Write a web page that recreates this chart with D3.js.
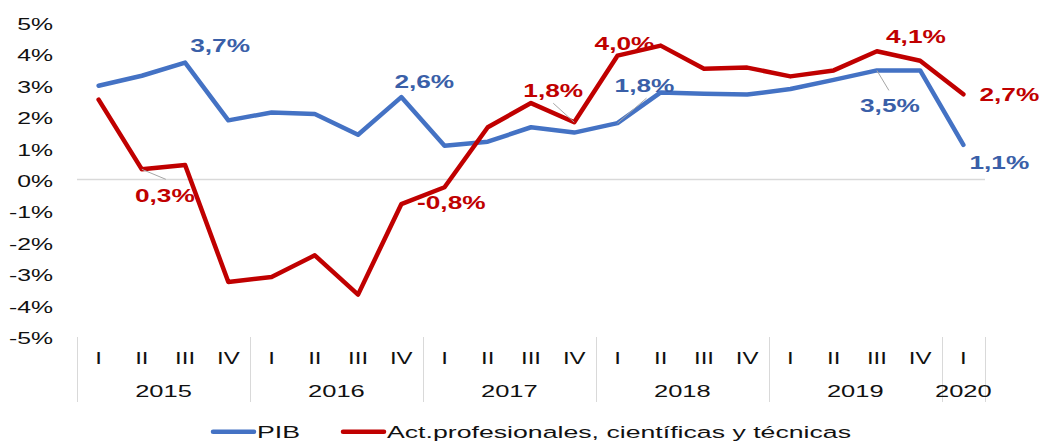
<!DOCTYPE html>
<html>
<head>
<meta charset="utf-8">
<script src="https://cdn.jsdelivr.net/npm/d3@7"></script>
<style>
  body { margin: 0; background: #fff; }
  svg { display: block; font-family: "Liberation Sans", Arial, sans-serif; }
</style>
</head>
<body>
<div id="chart"></div>
<script>
// periods (trimestres)
const periodQuarter = ["I", "II", "III", "IV", "I", "II", "III", "IV", "I", "II", "III", "IV",
  "I", "II", "III", "IV", "I", "II", "III", "IV", "I"];
const periodYear = ["2015", "2015", "2015", "2015", "2016", "2016", "2016", "2016",
  "2017", "2017", "2017", "2017", "2018", "2018", "2018", "2018",
  "2019", "2019", "2019", "2019", "2020"];
const years = ["2015", "2016", "2017", "2018", "2019", "2020"];

// tasas de variacion (%)
const pib = [3.0, 3.32, 3.74, 1.9, 2.15, 2.1, 1.44, 2.64, 1.09, 1.22, 1.68, 1.51,
  1.81, 2.79, 2.75, 2.72, 2.9, 3.19, 3.49, 3.49, 1.12];
const actProf = [2.56, 0.34, 0.48, -3.25, -3.09, -2.4, -3.65, -0.77, -0.23, 1.68, 2.45, 1.84,
  3.96, 4.28, 3.54, 3.58, 3.3, 3.49, 4.1, 3.8, 2.73];

const yTicks = [5, 4, 3, 2, 1, 0, -1, -2, -3, -4, -5];
const seriesNames = ["PIB", "Act.profesionales, científicas y técnicas"];

// which points get a label, and where the label sits relative to the point
const labelPlacement = [
  { s: 0, i: 2, dx: 35, dy: -17 },
  { s: 0, i: 7, dx: 23, dy: -15.5 },
  { s: 0, i: 12, dx: 27, dy: -37, leader: [0, 0, 29, -25] },
  { s: 0, i: 18, dx: 13, dy: 35, leader: [0, 0, 12, 20] },
  { s: 0, i: 20, dx: 36, dy: 18 },
  { s: 1, i: 1, dx: 23, dy: 26, leader: [0, 0, 24, 10] },
  { s: 1, i: 7, dx: 50, dy: -1 },
  { s: 1, i: 11, dx: -21, dy: -31.6, leader: [0, 0, -21, -19] },
  { s: 1, i: 12, dx: 7, dy: -12 },
  { s: 1, i: 18, dx: 39, dy: -15 },
  { s: 1, i: 20, dx: 46, dy: 0 }
];

var width = 1039, height = 441;
var lineColors = ["#4472c4", "#c00000"];
var labelColors = ["#3a5fa8", "#c00000"];
var SX = 1.5; // text in the original is stretched horizontally

var svg = d3.select("#chart").append("svg")
  .attr("width", width)
  .attr("height", height);

var idx = d3.range(periodQuarter.length);
var x = d3.scaleBand().domain(idx).range([77, 985]).padding(0);
var xc = function(i) { return x(i) + x.bandwidth() / 2; };
var y = d3.scaleLinear().domain([-5, 5]).range([337, 23]);

var es = d3.formatLocale({ decimal: ",", thousands: ".", grouping: [3], currency: ["", "€"], minus: "-" });
var pct1 = es.format(".1f");

// y axis (labels only)
svg.append("g")
  .attr("transform", "translate(53,0)")
  .call(d3.axisLeft(y).tickValues(yTicks).tickSize(0).tickPadding(0)
    .tickFormat(function(d) { return d + "%"; }))
  .call(g => g.select(".domain").remove())
  .selectAll("text")
  .attr("x", 0)
  .attr("dy", "0.4em")
  .attr("transform", "scale(1.55,1)")
  .style("font-size", "16px")
  .style("font-family", "'Liberation Sans', Arial, sans-serif")
  .style("fill", "#111");

// zero line
svg.append("line")
  .attr("x1", 77).attr("x2", 985)
  .attr("y1", y(0) - 0.5).attr("y2", y(0) - 0.5)
  .style("stroke", "#d9d9d9")
  .style("stroke-width", 1.3);

// quarter labels
svg.append("g")
  .attr("transform", "translate(0,337)")
  .call(d3.axisBottom(x).tickSize(0).tickPadding(0)
    .tickFormat(function(i) { return periodQuarter[i]; }))
  .call(g => g.select(".domain").remove())
  .selectAll("text")
  .attr("y", 27)
  .attr("dy", 0)
  .attr("transform", "scale(" + SX + ",1)")
  .style("font-size", "16px")
  .style("font-family", "'Liberation Sans', Arial, sans-serif")
  .style("fill", "#111");

// year separators and year labels
var bounds = [];
years.forEach(function(yr) {
  var ids = idx.filter(function(i) { return periodYear[i] === yr; });
  bounds.push({ yr: yr, x0: x(ids[0]), x1: x(ids[ids.length - 1]) + x.bandwidth() });
});
var seps = bounds.map(function(b) { return b.x0; }).concat([bounds[bounds.length - 1].x1]);

svg.append("g").selectAll("line")
  .data(seps)
  .enter().append("line")
  .attr("x1", d => Math.round(d) + 0.5).attr("x2", d => Math.round(d) + 0.5)
  .attr("y1", 337).attr("y2", 402)
  .style("stroke", "#d9d9d9")
  .style("stroke-width", 1);

svg.append("g").selectAll("text")
  .data(bounds)
  .enter().append("text")
  .attr("transform", d => "translate(" + (d.x0 + d.x1) / 2 + ",397) scale(" + SX + ",1)")
  .attr("text-anchor", "middle")
  .style("font-size", "17px")
  .style("fill", "#111")
  .text(d => d.yr);

// lines
var series = [pib, actProf];
var line = d3.line()
  .x(function(d, i) { return xc(i); })
  .y(function(d) { return y(d); });

svg.append("g").selectAll("path")
  .data(series)
  .enter().append("path")
  .attr("d", line)
  .style("fill", "none")
  .style("stroke", (d, s) => lineColors[s])
  .style("stroke-width", 4.5)
  .style("stroke-linejoin", "round")
  .style("stroke-linecap", "round");

// leader lines + data labels
labelPlacement.forEach(function(p) {
  var v = series[p.s][p.i];
  var px = xc(p.i), py = y(v);
  if (p.leader) {
    svg.append("line")
      .attr("x1", px + p.leader[0]).attr("y1", py + p.leader[1])
      .attr("x2", px + p.leader[2]).attr("y2", py + p.leader[3])
      .style("stroke", "#a6a6a6")
      .style("stroke-width", 1);
  }
  svg.append("text")
    .attr("transform", "translate(" + (px + p.dx) + "," + (py + p.dy + 6.3) + ") scale(" + SX + ",1)")
    .attr("text-anchor", "middle")
    .style("font-size", "17.5px")
    .style("font-weight", "bold")
    .style("fill", labelColors[p.s])
    .text(pct1(v) + "%");
});

// legend
var legend = svg.append("g");
var legendX = [213, 343];
seriesNames.forEach(function(name, s) {
  legend.append("line")
    .attr("x1", legendX[s]).attr("x2", legendX[s] + 41)
    .attr("y1", 431.7).attr("y2", 431.7)
    .style("stroke", lineColors[s])
    .style("stroke-width", 4.5)
    .style("stroke-linecap", "round");
  legend.append("text")
    .attr("transform", "translate(" + (legendX[s] + 44) + ",437.5) scale(1.57,1)")
    .style("font-size", "17px")
    .style("fill", "#111")
    .text(name);
});
</script>
</body>
</html>
